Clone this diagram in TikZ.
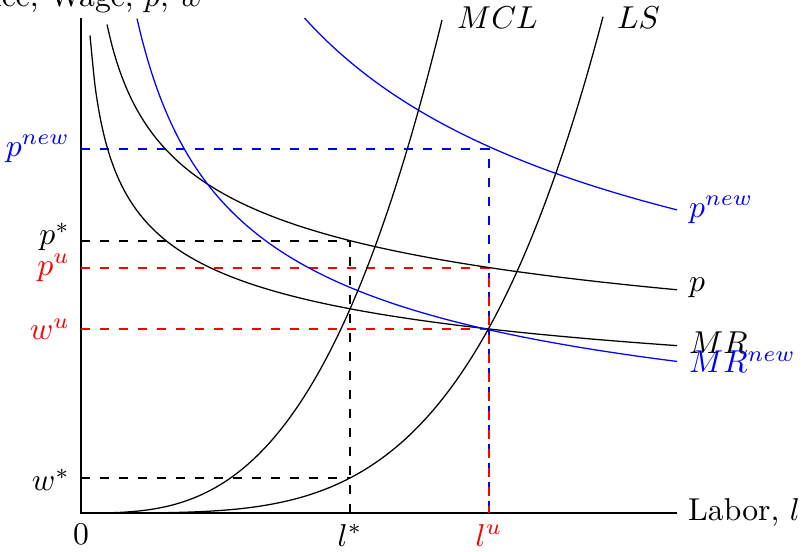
\documentclass[tikz,border=0pt]{standalone}
\begin{document}
\begin{tikzpicture}[x=0.316pt,y=-0.316pt,
  curve/.style={line width=0.4pt, samples=120, smooth},
  guide/.style={dashed, line width=0.4pt},
  llab/.style={anchor=east},
  rlab/.style={anchor=west}]
\useasboundingbox (0,0) rectangle (811,551);
% axes
\coordinate (O) at (81,513);
\coordinate (ytop) at (81,18);
\coordinate (xend) at (677,513);
\draw[line width=0.4pt] (ytop) -- (O) -- (xend);
\node[anchor=base] (ylab) at (81,7) {Price, Wage, $p$, $w$};
\node[rlab] (xlab) at (xend) {Labor, $l$};
\node[below] (zero) at (O) {$0$};
% key points
\coordinate (Ls) at (350,513);
\coordinate (Lu) at (489,513);
\coordinate (Pnew) at (489,149);
\coordinate (Pstar) at (350,241);
\coordinate (Pu) at (489,268);
\coordinate (Wu) at (489,329);
\coordinate (Wstar) at (350,478);
\coordinate (ypnew) at (81,149);
\coordinate (ypstar) at (81,241);
\coordinate (ypu) at (81,268);
\coordinate (ywu) at (81,329);
\coordinate (ywstar) at (81,478);
% guide lines
\draw[guide,blue] (ypnew) -- (Pnew) -- (Lu);
\draw[guide] (ypstar) -- (Pstar) -- (Ls);
\draw[guide] (ywstar) -- (Wstar);
\draw[guide,red] (ypu) -- (Pu) -- (Lu);
\draw[guide,red] (ywu) -- (Wu);
% curves
\draw[curve,domain=107:677] plot (\x,{513-1103/pow(\x-81,0.25)});
\draw[curve,domain=90:677] plot (\x,{513-827/pow(\x-81,0.25)});
\draw[curve,blue,domain=137:677] plot (\x,{513-3700/sqrt(\x-81)});
\draw[curve,blue,domain=304.5:677] plot (\x,{513-7400/sqrt(\x-81)});
\draw[curve,domain=81:603] plot (\x,{513-35*pow((\x-81)/269,4)});
\draw[curve,domain=81:442] plot (\x,{513-204*pow((\x-81)/269,3)});
% left labels
\node[llab,blue] (lpnew) at (81,149) {$p^{new}$};
\node[llab] (lpstar) at (81,237) {$p^{*}$};
\node[llab,red] (lpu) at (81,268) {$p^{u}$};
\node[llab,red] (lwu) at (81,329) {$w^{u}$};
\node[llab] (lwstar) at (81,480) {$w^{*}$};
% bottom labels
\node[below] (llstar) at (Ls) {$l^{*}$};
\node[below,red] (llu) at (Lu) {$l^{u}$};
% curve labels
\node[rlab] (lmcl) at (446,18) {$MCL$};
\node[rlab] (lls) at (606,18) {$LS$};
\node[rlab,blue] (rpnew) at (678,210) {$p^{new}$};
\node[rlab] (rp) at (678,288) {$p$};
\node[rlab] (rmr) at (678,343) {$MR$};
\node[rlab,blue] (rmrnew) at (678,362) {$MR^{new}$};
\end{tikzpicture}
\end{document}
